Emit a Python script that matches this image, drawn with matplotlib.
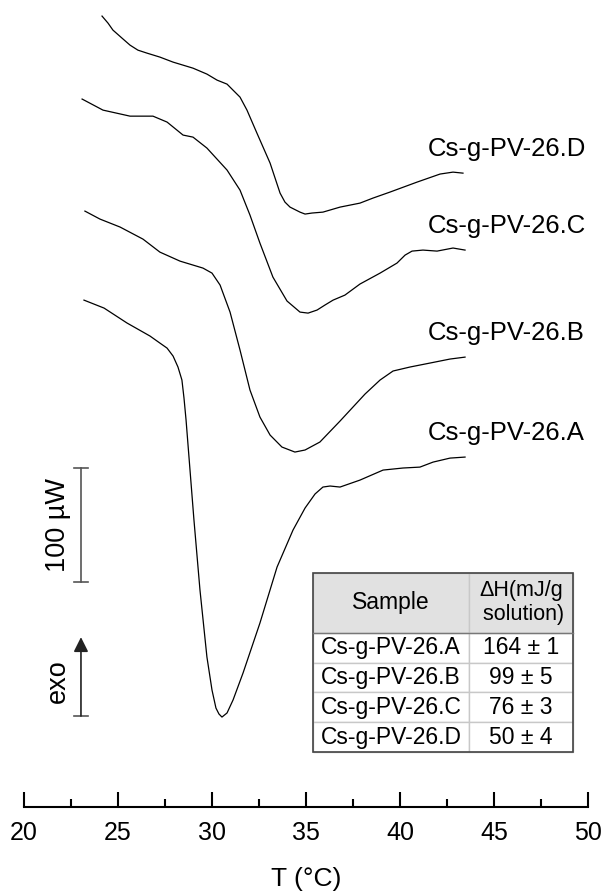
"""DSC thermograms of the Cs-g-PV-26 series with enthalpy table."""

import matplotlib

matplotlib.use("Agg")
import matplotlib.pyplot as plt
from matplotlib.patches import Rectangle
from matplotlib.ticker import MultipleLocator

plt.rcParams["font.family"] = ["Liberation Sans", "DejaVu Sans"]

# temperature (degC) and stacked heat flow (uW) for each sample
temp_a = [23.19, 24.26, 25.48, 26.70, 27.23, 27.61, 27.93, 28.19, 28.40, 28.51,
          28.62, 28.83, 29.04, 29.36, 29.73, 30.00, 30.21, 30.37, 30.53, 30.80,
          31.12, 31.65, 32.55, 33.46, 34.31, 34.95, 35.48, 35.90, 36.28, 36.81,
          37.87, 39.10, 40.16, 41.06, 41.76, 42.66, 43.46]
flow_a = [444.7, 437.7, 424.6, 413.2, 407.0, 402.6, 395.6, 386.0, 374.6, 358.8,
          339.5, 295.6, 251.8, 190.4, 131.6, 102.6, 86.8, 81.6, 78.9, 82.5,
          93.9, 117.5, 161.4, 210.5, 243.0, 262.3, 274.6, 280.7, 281.6, 280.7,
          286.8, 295.6, 297.4, 298.2, 302.6, 306.1, 307.0]

temp_b = [23.24, 24.04, 25.11, 26.33, 27.23, 28.30, 29.52, 30.00, 30.43, 30.96,
          31.49, 32.02, 32.55, 33.09, 33.72, 34.41, 34.95, 35.74, 36.81, 38.14,
          38.94, 39.63, 40.53, 41.60, 42.66, 43.46]
flow_b = [522.8, 515.8, 508.8, 498.2, 486.8, 478.9, 472.8, 468.4, 457.9, 434.2,
          400.9, 365.8, 342.1, 326.3, 315.8, 311.4, 313.2, 320.2, 338.6, 362.3,
          374.6, 382.5, 386.0, 389.5, 393.0, 394.7]

temp_c = [23.09, 24.20, 25.64, 26.86, 27.61, 28.46, 28.99, 29.73, 30.80, 31.49,
          32.02, 32.55, 33.24, 33.99, 34.68, 35.11, 35.59, 36.01, 36.44, 37.07,
          37.87, 38.94, 39.84, 40.27, 40.64, 41.22, 41.97, 42.82, 43.46]
flow_c = [621.1, 611.4, 606.1, 606.1, 600.9, 589.5, 587.7, 578.1, 558.8, 541.2,
          519.3, 494.7, 464.9, 443.9, 434.2, 433.3, 436.0, 440.4, 444.7, 449.1,
          458.8, 468.4, 477.2, 484.2, 487.7, 488.6, 487.7, 490.4, 488.6]

temp_d = [24.15, 24.47, 24.73, 25.21, 25.64, 26.06, 26.54, 27.23, 27.93, 28.99,
          29.73, 30.27, 30.80, 31.12, 31.49, 31.86, 32.39, 33.09, 33.62, 33.88,
          34.15, 34.68, 34.95, 35.32, 35.90, 36.81, 37.87, 38.56, 39.47, 40.90,
          42.13, 42.82, 43.35]
flow_d = [693.9, 687.7, 681.6, 674.6, 668.4, 664.0, 661.4, 657.9, 653.5, 648.2,
          643.0, 637.7, 634.2, 628.9, 622.8, 611.4, 591.2, 564.9, 538.6, 530.7,
          526.3, 521.9, 520.2, 521.1, 521.9, 526.3, 529.8, 534.2, 539.5, 548.2,
          555.3, 557.0, 556.1]

samples = ["Cs-g-PV-26.A", "Cs-g-PV-26.B", "Cs-g-PV-26.C", "Cs-g-PV-26.D"]
enthalpy = ["164 ± 1", "99 ± 5", "76 ± 3", "50 ± 4"]
table_header = ["Sample", "ΔH(mJ/g\n solution)"]

fig = plt.figure(figsize=(6.03, 8.92), dpi=100)
ax = fig.add_axes([24 / 603, 85 / 892, 564 / 603, 807 / 892])
ax.set_xlim(20, 50)
ax.set_ylim(0, 708)

curves = [(temp_a, flow_a), (temp_b, flow_b), (temp_c, flow_c), (temp_d, flow_d)]
for (t, q), name in zip(curves, samples):
    ax.plot(t, q, color="black", lw=0.9, solid_joinstyle="round")
    ax.text(41.5, q[-1] + 21, name, fontsize=18.5, va="center", ha="left")

# 100 uW scale bar and exo direction arrow
bar_x, cap = 23.03, 0.37
ax.plot([bar_x, bar_x], [197.4, 297.4], color="#555555", lw=1.2)
for yy in (197.4, 297.4, 79.8):
    ax.plot([bar_x - cap, bar_x + cap], [yy, yy], color="#555555", lw=1.2)
ax.annotate("", xy=(bar_x, 149), xytext=(bar_x, 79.8),
            arrowprops=dict(arrowstyle="-|>", color="#222222", lw=1.2,
                            mutation_scale=22, shrinkA=0, shrinkB=0))
ax.text(21.8, 247.4, "100 µW", rotation=90, fontsize=19.5, ha="center", va="center")
ax.text(21.8, 110.5, "exo", rotation=90, fontsize=19.5, ha="center", va="center")

# enthalpy table
bbox = [289 / 564, 55 / 807, 260 / 564, 179 / 807]
tbl = ax.table(cellText=[[s, h] for s, h in zip(samples, enthalpy)],
               colLabels=table_header, cellLoc="center",
               colWidths=[156 / 260, 104 / 260], bbox=bbox)
tbl.auto_set_font_size(False)
tbl.set_fontsize(16.5)
for (r, c), cell in tbl.get_celld().items():
    cell.set_edgecolor("#c8c8c8")
    cell.set_linewidth(1.0)
    if r == 0:
        cell.set_facecolor("#e1e1e1")
        cell.set_height(cell.get_height() * 2)
        if c == 1:
            cell.get_text().set_fontsize(15.5)
ax.add_patch(Rectangle((bbox[0], bbox[1]), bbox[2], bbox[3], transform=ax.transAxes,
                       fill=False, edgecolor="#444444", lw=1.2, zorder=20))
ax.plot([bbox[0], bbox[0] + bbox[2]], [bbox[1] + bbox[3] * 4 / 6] * 2,
        transform=ax.transAxes, color="#777777", lw=1.0, zorder=20)

for side in ("left", "right", "top"):
    ax.spines[side].set_visible(False)
ax.spines["bottom"].set_linewidth(1.5)
ax.set_yticks([])
ax.set_xticks(range(20, 51, 5))
ax.xaxis.set_minor_locator(MultipleLocator(2.5))
ax.tick_params(axis="x", which="major", direction="in", length=11, width=1.5,
               labelsize=18, pad=10)
ax.tick_params(axis="x", which="minor", direction="in", length=6, width=1.5)
ax.set_xlabel("T (°C)", fontsize=19, labelpad=16)

fig.savefig("out.png", dpi=100)
